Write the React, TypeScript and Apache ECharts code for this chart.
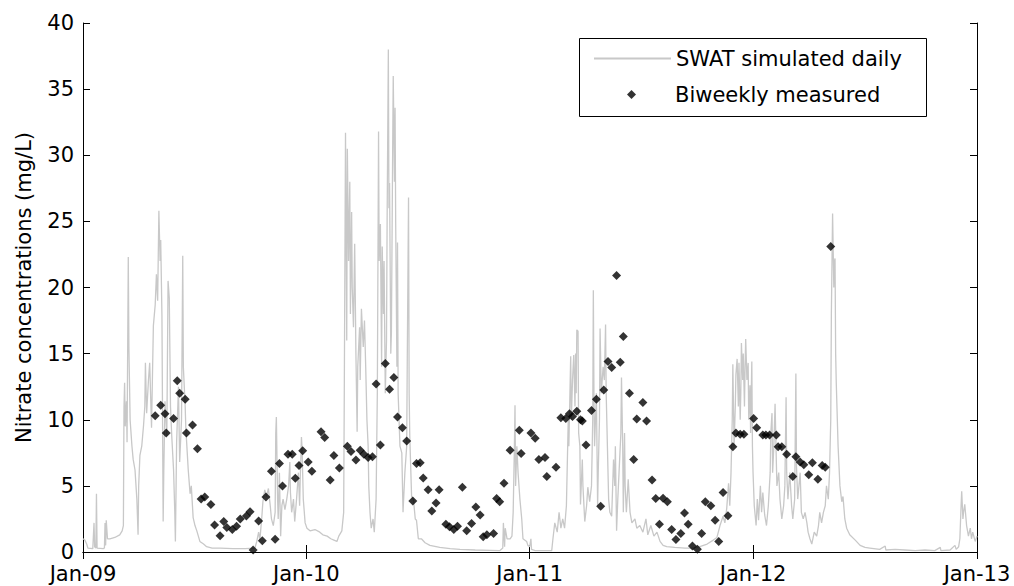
import React, { useEffect, useRef } from "react";
import * as echarts from "echarts";

// Days since 1 Jan 2009, nitrate (mg/L)
const simulatedDaily: [number, number][] = [
  [0, 1.0], [3, 0.9], [6, 0.6], [8, 0.3], [16, 0.25], [18, 2.2], [19, 0.4], [21, 0.3], [22, 4.4], [23, 0.3],
  [33, 0.25], [35, 0.3], [36, 2.2], [37, 0.5], [38, 2.4], [40, 1.0], [44, 1.0], [52, 1.1], [60, 1.3], [64, 1.6],
  [66, 2.0], [67, 11.0], [68, 12.8], [69, 9.5], [71, 11.4], [72, 8.3], [74, 22.3], [75, 15.5], [77, 10.0], [80, 8.0],
  [82, 7.0], [85, 6.2], [88, 4.0], [90, 1.3], [91, 5.0], [93, 7.3], [96, 8.0], [99, 9.6], [101, 11.0], [102, 14.3],
  [104, 10.5], [107, 13.0], [109, 14.3], [112, 9.4], [115, 17.1], [118, 18.7], [120, 21.0], [122, 19.0], [124, 25.8], [126, 22.0],
  [127, 23.6], [129, 17.9], [130, 10.0], [131, 2.3], [132, 6.0], [134, 11.4], [137, 8.8], [139, 20.5], [141, 19.2], [143, 11.0],
  [145, 8.8], [148, 6.2], [150, 3.0], [151, 0.8], [152, 4.5], [153, 8.3], [156, 12.5], [158, 6.8], [161, 10.0], [163, 22.4],
  [164, 14.0], [167, 11.0], [168, 9.4], [172, 6.2], [175, 4.4], [177, 5.0], [180, 2.6], [183, 2.0], [186, 1.6], [191, 0.8],
  [197, 0.6], [202, 0.4], [211, 0.3], [224, 0.3], [245, 0.25], [265, 0.25], [281, 0.3], [284, 0.8], [287, 1.5], [289, 0.9],
  [292, 2.5], [294, 3.8], [297, 4.7], [300, 4.2], [303, 4.8], [306, 3.5], [308, 2.5], [311, 2.0], [314, 3.0], [315, 9.0],
  [316, 10.2], [318, 4.0], [319, 2.5], [321, 6.0], [323, 1.2], [325, 3.5], [327, 4.0], [330, 3.2], [333, 4.0], [336, 5.0],
  [338, 6.8], [339, 4.5], [341, 3.0], [344, 4.0], [346, 2.3], [349, 4.0], [352, 6.0], [354, 3.5], [355, 5.5], [357, 8.7],
  [358, 7.8], [360, 4.0], [363, 2.2], [366, 1.8], [371, 1.6], [379, 1.7], [387, 1.5], [392, 1.3], [399, 1.2], [405, 1.0],
  [410, 0.9], [415, 0.8], [418, 1.2], [423, 1.6], [426, 3.0], [427, 12.0], [429, 31.7], [430, 24.0], [431, 16.0], [432, 30.5],
  [434, 22.0], [436, 28.0], [437, 18.0], [439, 25.7], [440, 20.0], [442, 17.0], [444, 23.3], [446, 15.0], [448, 9.1], [449, 14.0],
  [452, 17.0], [453, 13.0], [455, 18.4], [458, 15.5], [460, 17.5], [462, 14.0], [464, 10.0], [466, 8.0], [467, 5.0], [469, 3.0],
  [471, 1.8], [474, 2.5], [476, 1.5], [479, 4.0], [481, 12.0], [483, 31.8], [484, 22.0], [486, 24.8], [488, 14.0], [489, 23.1],
  [491, 18.0], [492, 22.0], [494, 12.0], [496, 16.0], [497, 25.0], [499, 38.0], [500, 26.0], [501, 27.9], [503, 15.0], [504, 16.6],
  [506, 30.0], [507, 36.0], [509, 28.0], [510, 33.6], [511, 24.9], [513, 14.0], [514, 23.4], [515, 12.0], [518, 8.0], [521, 7.5],
  [523, 3.0], [526, 6.0], [529, 8.0], [530, 15.0], [532, 26.8], [533, 12.0], [534, 8.8], [537, 4.2], [540, 4.0], [543, 2.5],
  [545, 2.4], [548, 1.0], [553, 1.0], [559, 0.7], [567, 0.5], [583, 0.35], [600, 0.25], [616, 0.2], [641, 0.15], [665, 0.12],
  [681, 0.1], [686, 0.3], [687, 2.2], [689, 0.4], [690, 1.8], [693, 1.0], [698, 1.0], [701, 1.2], [703, 3.0], [705, 8.0],
  [706, 11.1], [707, 5.0], [709, 8.0], [711, 6.0], [714, 4.0], [717, 2.5], [719, 1.0], [725, 0.8], [727, 0.5], [730, 0.4],
  [732, 1.0], [733, 0.2], [739, 0.1], [755, 0.1], [766, 0.1], [768, 1.0], [771, 2.2], [775, 1.5], [778, 3.0], [781, 1.8],
  [784, 2.5], [787, 1.8], [790, 3.5], [793, 10.0], [794, 8.0], [797, 14.8], [798, 10.0], [800, 13.0], [802, 14.9], [804, 11.0],
  [805, 15.0], [806, 12.0], [807, 16.8], [809, 16.7], [810, 9.0], [812, 8.0], [813, 3.6], [816, 7.0], [817, 5.0], [820, 2.3],
  [823, 3.5], [825, 4.9], [828, 3.8], [831, 5.0], [833, 10.0], [834, 19.8], [835, 12.0], [836, 8.0], [839, 12.0], [841, 3.5],
  [842, 6.0], [844, 10.0], [845, 16.9], [847, 12.0], [850, 14.0], [852, 13.0], [854, 17.2], [855, 12.0], [857, 8.0], [859, 4.0],
  [861, 3.0], [864, 2.7], [867, 7.0], [869, 5.0], [870, 8.0], [872, 1.6], [874, 4.0], [876, 6.0], [879, 9.0], [880, 13.2],
  [882, 8.0], [883, 3.0], [885, 9.0], [886, 5.0], [888, 3.0], [891, 5.5], [894, 3.0], [897, 2.2], [902, 2.5], [905, 1.8],
  [910, 2.0], [915, 1.5], [920, 2.5], [923, 1.3], [928, 2.0], [933, 1.2], [938, 1.5], [943, 0.8], [948, 0.5], [954, 0.4],
  [967, 0.35], [984, 0.3], [996, 0.3], [1008, 0.4], [1020, 0.6], [1030, 0.9], [1036, 1.1], [1041, 2.0], [1046, 2.7], [1049, 2.2],
  [1052, 3.3], [1055, 5.2], [1057, 3.5], [1059, 6.0], [1061, 10.0], [1062, 14.2], [1064, 8.0], [1066, 11.0], [1067, 13.4], [1069, 14.6],
  [1071, 11.0], [1072, 14.3], [1074, 10.0], [1075, 12.0], [1076, 15.8], [1078, 13.0], [1079, 15.0], [1081, 11.0], [1082, 14.0], [1083, 16.1],
  [1085, 13.0], [1087, 14.3], [1088, 10.0], [1090, 12.6], [1091, 9.0], [1093, 14.4], [1094, 8.0], [1095, 6.0], [1097, 3.5], [1100, 2.0],
  [1102, 4.0], [1104, 2.4], [1107, 5.0], [1109, 3.0], [1111, 4.5], [1114, 2.8], [1117, 2.0], [1120, 3.5], [1123, 6.0], [1124, 9.0],
  [1126, 10.5], [1127, 6.0], [1129, 8.0], [1131, 11.2], [1133, 7.0], [1134, 5.0], [1137, 6.0], [1139, 4.0], [1142, 2.5], [1145, 3.5],
  [1147, 5.0], [1149, 11.7], [1150, 6.0], [1152, 4.0], [1155, 6.0], [1158, 3.5], [1160, 2.5], [1163, 4.0], [1165, 13.5], [1166, 6.5],
  [1168, 4.0], [1172, 6.0], [1174, 3.0], [1177, 2.5], [1180, 3.0], [1183, 2.2], [1185, 1.5], [1188, 1.0], [1191, 0.6], [1195, 1.5],
  [1199, 1.2], [1202, 2.0], [1204, 3.0], [1207, 2.2], [1210, 3.0], [1213, 3.5], [1215, 5.0], [1218, 4.0], [1220, 6.0], [1222, 10.0],
  [1223, 18.0], [1225, 25.6], [1227, 20.0], [1228, 22.0], [1229, 22.2], [1230, 15.0], [1231, 12.8], [1234, 8.0], [1237, 5.0], [1240, 3.8],
  [1242, 4.2], [1245, 2.5], [1248, 1.8], [1253, 1.3], [1262, 0.9], [1270, 0.5], [1278, 0.35], [1286, 0.3], [1302, 0.2], [1311, 0.45],
  [1312, 0.15], [1327, 0.2], [1343, 0.15], [1360, 0.1], [1376, 0.15], [1392, 0.1], [1401, 0.35], [1402, 0.1], [1417, 0.15], [1425, 0.5],
  [1427, 0.2], [1431, 0.4], [1433, 1.0], [1435, 3.5], [1436, 4.6], [1438, 2.5], [1439, 3.0], [1441, 3.6], [1444, 2.0], [1447, 1.2],
  [1450, 1.8], [1452, 1.0], [1454, 1.5], [1458, 0.8], [1461, 1.2],
];

const measuredBiweekly: [number, number][] = [
  [118, 10.3], [127, 11.1], [134, 10.45], [136, 9.0], [148, 10.1], [154, 12.95], [158, 12.0], [167, 11.55], [169, 9.0], [179, 9.6],
  [187, 7.8], [193, 4.0], [199, 4.15], [209, 3.6], [215, 2.05], [224, 1.22], [230, 2.3], [235, 1.85], [244, 1.7], [251, 1.95],
  [257, 2.5], [267, 2.72], [273, 3.05], [278, 0.15], [287, 2.35], [293, 0.85], [299, 4.15], [308, 6.1], [314, 0.97], [321, 6.7],
  [326, 5.0], [335, 7.4], [342, 7.4], [347, 5.57], [353, 6.55], [359, 7.65], [368, 6.8], [374, 6.1], [389, 9.1], [395, 8.65],
  [404, 5.45], [410, 7.3], [419, 6.35], [432, 8.0], [438, 7.6], [446, 6.95], [453, 7.7], [459, 7.4], [466, 7.15], [473, 7.2],
  [479, 12.7], [486, 8.1], [494, 14.25], [501, 12.3], [508, 13.2], [514, 10.2], [522, 9.4], [529, 8.4], [539, 3.85], [545, 6.7],
  [551, 6.75], [556, 5.6], [564, 4.7], [570, 3.1], [577, 3.7], [582, 4.7], [593, 2.1], [599, 1.9], [606, 1.7], [612, 1.95],
  [620, 4.9], [627, 1.6], [635, 2.15], [642, 3.4], [649, 2.8], [654, 1.15], [660, 1.3], [671, 1.4], [676, 4.05], [681, 3.8],
  [688, 5.2], [698, 7.7], [713, 9.2], [716, 7.45], [732, 9.0], [739, 8.6], [745, 7.0], [755, 7.15], [758, 5.7], [773, 6.4],
  [781, 10.15], [789, 10.1], [795, 10.45], [800, 10.25], [807, 10.65], [813, 10.0], [816, 9.9], [822, 8.1], [831, 10.7], [839, 11.55],
  [846, 3.45], [851, 12.25], [858, 14.4], [864, 13.95], [872, 20.9], [878, 14.35], [883, 16.3], [893, 12.0], [900, 7.0], [905, 10.05],
  [915, 11.3], [921, 9.9], [930, 5.45], [936, 4.05], [942, 2.1], [948, 4.07], [955, 3.8], [962, 1.7], [969, 0.95], [977, 1.4],
  [983, 2.95], [989, 2.1], [996, 0.45], [1004, 0.2], [1011, 1.4], [1017, 3.8], [1026, 3.5], [1033, 2.4], [1039, 0.8], [1046, 4.5],
  [1054, 2.75], [1062, 7.95], [1067, 9.0], [1074, 8.9], [1080, 8.9], [1096, 10.1], [1101, 9.4], [1111, 8.85], [1116, 8.85], [1122, 8.85],
  [1133, 8.85], [1136, 7.95], [1142, 7.95], [1150, 7.4], [1160, 5.7], [1165, 7.2], [1172, 6.8], [1178, 6.6], [1186, 5.85], [1192, 6.75],
  [1201, 5.5], [1208, 6.55], [1213, 6.4], [1222, 23.1],
];

const seriesNames = ["SWAT simulated daily", "Biweekly measured"];
const monthNames = ["Jan", "Feb", "Mar", "Apr", "May", "Jun", "Jul", "Aug", "Sep", "Oct", "Nov", "Dec"];
const yTitle = "Nitrate concentrations (mg/L)";
const startYear = 2009;
const endYear = 2013;
const yMin = 0;
const yMax = 40;
const yStep = 5;

const dayToTime = (d: number) => new Date(startYear, 0, 1 + d).getTime();
const FONT = "DejaVu Sans";

export default function App() {
  const ref = useRef<HTMLDivElement>(null);
  useEffect(() => {
    if (!ref.current) return;
    const chart = echarts.init(ref.current, undefined, { renderer: "svg" });
    const xMin = new Date(startYear, 0, 1).getTime();
    const xMax = new Date(endYear, 0, 1).getTime();
    const DAY = 86400000;
    const fmt = (v: number) => {
      const d = new Date(v);
      return monthNames[d.getMonth()] + "-" + String(d.getFullYear()).slice(2);
    };
    const axisLine = { show: true, lineStyle: { color: "#000", width: 1 } };
    const tick = { show: true, inside: true, length: 7, lineStyle: { color: "#000", width: 1 } };
    const legendText = { fontSize: 21, fontFamily: FONT, color: "#000", lineHeight: 21 };
    chart.setOption({
      animation: false,
      backgroundColor: "#fff",
      textStyle: { fontFamily: FONT },
      grid: { left: 83, right: 37, top: 23, bottom: 34, containLabel: false },
      graphic: [
        {
          type: "rect",
          left: 579,
          top: 38,
          shape: { width: 347, height: 78 },
          style: { fill: "#fff", stroke: "#000", lineWidth: 1 },
          z: 50,
        },
      ],
      legend: [
        {
          data: [{ name: seriesNames[0], itemStyle: { opacity: 0 } }],
          left: 579,
          top: 38,
          itemWidth: 77,
          itemHeight: 9,
          padding: [10, 14, 0, 14],
          selectedMode: false,
          textStyle: legendText,
          z: 60,
        },
        {
          data: [{ name: seriesNames[1], icon: "diamond" }],
          left: 579,
          top: 74,
          itemWidth: 9,
          itemHeight: 9,
          padding: [10, 14, 0, 48],
          selectedMode: false,
          textStyle: { ...legendText, padding: [0, 0, 0, 34] },
          z: 60,
        },
      ],
      xAxis: [
        {
          type: "time",
          position: "bottom",
          min: xMin,
          max: xMax,
          minInterval: 365 * DAY,
          maxInterval: 366 * DAY,
          axisLine,
          axisTick: tick,
          splitLine: { show: false },
          axisLabel: {
            formatter: fmt,
            fontSize: 21,
            fontFamily: FONT,
            color: "#000",
            lineHeight: 18,
            margin: 13,
            showMinLabel: true,
            showMaxLabel: true,
            hideOverlap: false,
          },
        },
        {
          type: "time",
          position: "top",
          min: xMin,
          max: xMax,
          minInterval: 365 * DAY,
          maxInterval: 366 * DAY,
          axisLine,
          axisTick: tick,
          splitLine: { show: false },
          axisLabel: { show: false },
        },
      ],
      yAxis: [
        {
          type: "value",
          position: "left",
          min: yMin,
          max: yMax,
          interval: yStep,
          axisLine,
          axisTick: tick,
          splitLine: { show: false },
          axisLabel: { fontSize: 21, fontFamily: FONT, color: "#000", margin: 9, lineHeight: 17 },
          name: yTitle,
          nameLocation: "middle",
          nameGap: 49,
          nameTextStyle: { fontSize: 21, fontFamily: FONT, color: "#000" },
        },
        {
          type: "value",
          position: "right",
          min: yMin,
          max: yMax,
          interval: yStep,
          axisLine,
          axisTick: tick,
          splitLine: { show: false },
          axisLabel: { show: false },
        },
      ],
      series: [
        {
          name: seriesNames[0],
          type: "line",
          xAxisIndex: 0,
          yAxisIndex: 0,
          symbol: "none",
          color: "#c8c8c8",
          lineStyle: { color: "#c8c8c8", width: 1.3 },
          data: simulatedDaily.map(([d, v]) => [dayToTime(d), v]),
          z: 1,
        },
        {
          name: seriesNames[1],
          type: "scatter",
          xAxisIndex: 0,
          yAxisIndex: 0,
          symbol: "diamond",
          symbolSize: 9,
          color: "#000",
          itemStyle: { color: "#000" },
          data: measuredBiweekly.map(([d, v]) => [dayToTime(d), v]),
          z: 3,
        },
      ],
    });
    return () => chart.dispose();
  }, []);
  return (
    <div
      ref={ref}
      style={{ position: "absolute", left: 0, top: 0, width: 1014, height: 586, background: "#fff" }}
    />
  );
}
